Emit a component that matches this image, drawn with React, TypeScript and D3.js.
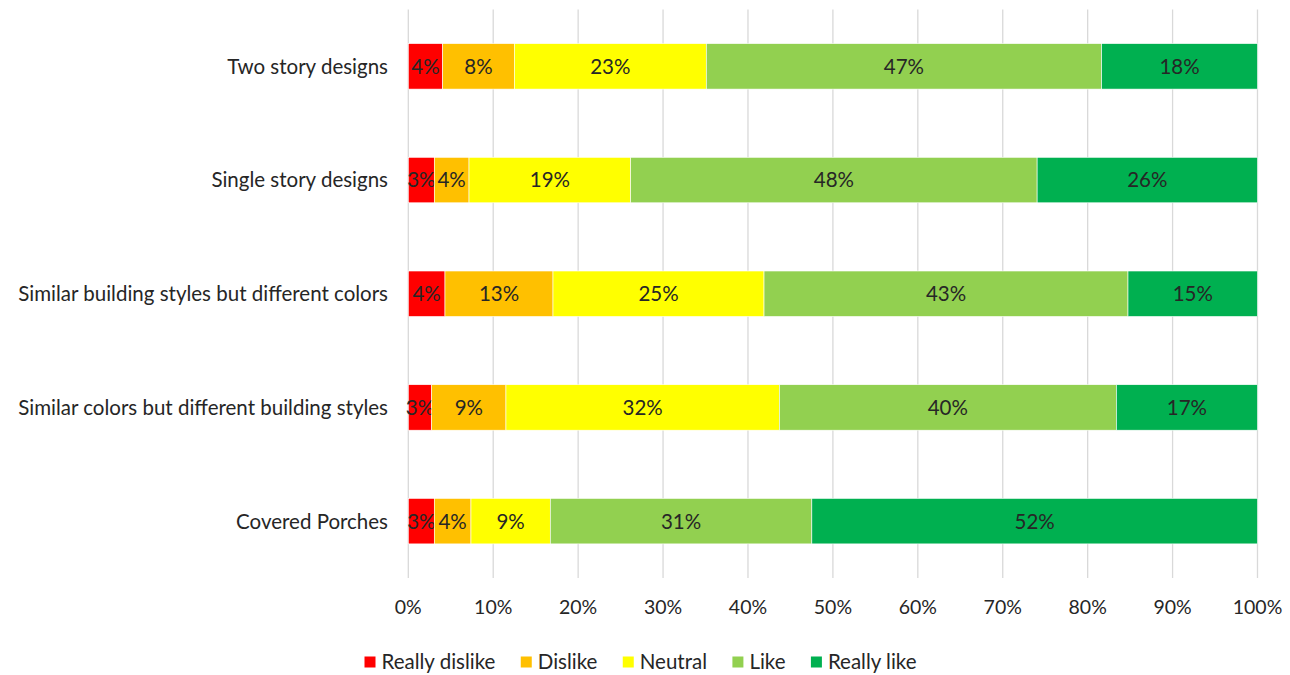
import React, { useEffect, useRef } from "react";
import * as d3 from "d3";

const categories = [
  "Two story designs",
  "Single story designs",
  "Similar building styles but different colors",
  "Similar colors but different building styles",
  "Covered Porches",
];
const seriesNames = ["Really dislike", "Dislike", "Neutral", "Like", "Really like"];
const seriesColors = ["#FF0000", "#FFC000", "#FFFF00", "#92D050", "#00B050"];
const reallyDislike = [4.05, 3.06, 4.32, 2.75, 3.06];
const dislike = [8.44, 4.09, 12.72, 8.75, 4.32];
const neutral = [22.6, 19.04, 24.85, 32.19, 9.34];
const like = [46.55, 47.86, 42.86, 39.69, 30.8];
const reallyLike = [18.36, 25.95, 15.25, 16.62, 52.48];
const xTicks = [0, 10, 20, 30, 40, 50, 60, 70, 80, 90, 100];

const FONT = "Lato, 'Open Sans', sans-serif";
const FS = 20.5;

export default function App() {
  const ref = useRef<SVGSVGElement | null>(null);

  useEffect(() => {
    const svg = d3.select(ref.current);
    svg.selectAll("*").remove();
    const left = 408.3, right = 1257.5, top = 9.5, bottom = 578;
    const x = d3.scaleLinear().domain([0, 100]).range([left, right]);
    const y = d3.scaleBand().domain(categories).range([top, bottom]).paddingInner(0.6).paddingOuter(0.3);

    const seriesData = [reallyDislike, dislike, neutral, like, reallyLike];
    const rows = categories.map((c, i) => {
      const o: any = { cat: c };
      seriesNames.forEach((s, j) => (o[s] = seriesData[j][i]));
      return o;
    });
    const stacked = d3.stack().keys(seriesNames)(rows);

    svg.append("g").selectAll("line").data(xTicks).join("line")
      .attr("x1", (d) => x(d)).attr("x2", (d) => x(d))
      .attr("y1", top).attr("y2", bottom)
      .attr("stroke", "#d9d9d9").attr("stroke-width", 1.3);

    const g = svg.append("g");
    stacked.forEach((layer, j) => {
      const lg = g.append("g");
      lg.selectAll("rect").data(layer).join("rect")
        .attr("x", (d) => x(d[0]))
        .attr("width", (d) => x(d[1]) - x(d[0]))
        .attr("y", (d) => y((d.data as any).cat)!)
        .attr("height", y.bandwidth())
        .attr("fill", seriesColors[j])
        .attr("stroke", "#ffffff").attr("stroke-width", 0.6);
      lg.selectAll("text").data(layer).join("text")
        .attr("x", (d) => (x(d[0]) + x(d[1])) / 2)
        .attr("y", (d) => y((d.data as any).cat)! + y.bandwidth() / 2)
        .attr("dy", "0.36em")
        .attr("text-anchor", "middle")
        .attr("font-family", FONT).attr("font-size", FS)
        .attr("fill", "#262626")
        .text((d) => Math.round(d[1] - d[0]) + "%");
    });

    svg.append("g").selectAll("text").data(categories).join("text")
      .attr("x", 388).attr("y", (d) => y(d)! + y.bandwidth() / 2)
      .attr("dy", "0.36em").attr("text-anchor", "end")
      .attr("font-family", FONT).attr("font-size", FS).attr("fill", "#262626")
      .text((d) => d);

    svg.append("g").selectAll("text").data(xTicks).join("text")
      .attr("x", (d) => x(d)).attr("y", 607).attr("dy", "0.36em")
      .attr("text-anchor", "middle")
      .attr("font-family", FONT).attr("font-size", 19.5).attr("fill", "#262626")
      .text((d) => d + "%");

    const leg = svg.append("g");
    const items = leg.selectAll("g").data(seriesNames).join("g");
    items.append("rect").attr("width", 11).attr("height", 11).attr("y", -5.5)
      .attr("fill", (d, i) => seriesColors[i]);
    const texts = items.append("text").attr("x", 17).attr("dy", "0.36em")
      .attr("font-family", FONT).attr("font-size", FS).attr("fill", "#262626")
      .text((d) => d);
    const widths: number[] = [];
    texts.each(function () { widths.push((this as SVGTextElement).getComputedTextLength()); });
    const itemW = widths.map((w) => 17 + w);
    const legendSpan = 552;
    const gap = Math.max(14, (legendSpan - d3.sum(itemW)) / (itemW.length - 1));
    const total = d3.sum(itemW) + gap * (itemW.length - 1);
    let cx = 640.5 - total / 2;
    items.attr("transform", (d, i) => {
      const t = `translate(${cx},662)`;
      cx += itemW[i] + gap;
      return t;
    });
  }, []);

  return (
    <svg ref={ref} width={1290} height={675} style={{ position: "absolute", left: 0, top: 0, background: "#fff" }} />
  );
}
